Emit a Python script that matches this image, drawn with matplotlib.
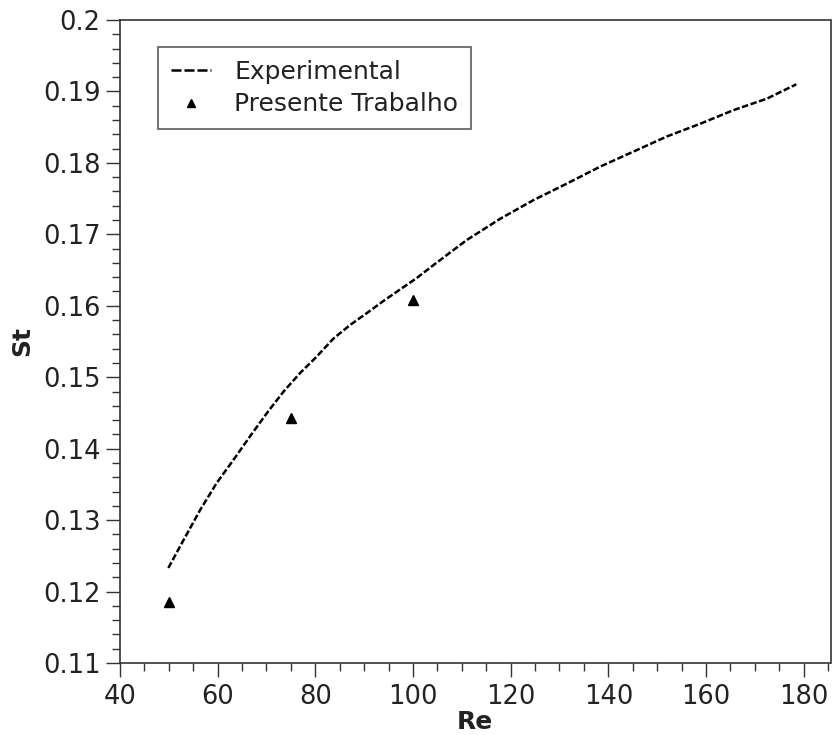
import matplotlib
matplotlib.use("Agg")
import matplotlib.pyplot as plt
from matplotlib.lines import Line2D
from matplotlib.ticker import MultipleLocator

# Experimental curve
re_exp = [49.9, 53.0, 56.4, 59.8, 63.2, 66.6, 70.1, 73.5, 76.9, 80.3, 83.7, 87.1,
          90.6, 94.0, 97.4, 100.8, 104.2, 111.0, 117.9, 124.7, 131.5, 138.4, 145.2,
          152.0, 158.9, 165.7, 172.5, 178.5]
st_exp = [0.1233, 0.1272, 0.1314, 0.1352, 0.1384, 0.1417, 0.1450, 0.1480, 0.1506,
          0.1529, 0.1554, 0.1573, 0.1590, 0.1607, 0.1623, 0.1639, 0.1657, 0.1692,
          0.1722, 0.1748, 0.1771, 0.1795, 0.1816, 0.1837, 0.1855, 0.1874, 0.1890,
          0.1910]

# Present work
re_pt = [50, 75, 100]
st_pt = [0.1186, 0.1443, 0.1608]

xticks = [40, 60, 80, 100, 120, 140, 160, 180]
yticks = [0.11, 0.12, 0.13, 0.14, 0.15, 0.16, 0.17, 0.18, 0.19, 0.2]
ytick_labels = ["0.11", "0.12", "0.13", "0.14", "0.15", "0.16", "0.17", "0.18", "0.19", "0.2"]

plt.rcParams['font.family'] = ['DejaVu Sans']
txt = '#222222'
spine_c = '#333333'

fig = plt.figure(figsize=(8.32, 7.35), dpi=100)
ax = fig.add_axes([120/832, 72/735, 710.5/832, 643/735])

ax.plot(re_exp, st_exp, color='black', lw=1.8, dashes=(2.6, 1.0))
ax.plot(re_pt, st_pt, linestyle='none', marker='^', color='black', markersize=7)

ax.set_xlim(40, 185.5)
ax.set_ylim(0.11, 0.2)
ax.set_xticks(xticks)
ax.set_yticks(yticks)
ax.set_yticklabels(ytick_labels)
ax.xaxis.set_minor_locator(MultipleLocator(5))
ax.yaxis.set_minor_locator(MultipleLocator(0.002))

ax.tick_params(which='both', direction='out', top=False, right=False,
               colors=spine_c, labelcolor=txt, labelsize=18.5, width=1.0)
ax.tick_params(which='major', length=10)
ax.tick_params(which='minor', length=5.5)
ax.tick_params(axis='y', which='major', pad=4)
ax.tick_params(axis='x', which='major', pad=5)
for s in ax.spines.values():
    s.set_color(spine_c)
    s.set_linewidth(1.2)

ax.set_xlabel('Re', fontsize=18, fontweight='bold', color=txt, labelpad=0)
ax.set_ylabel('St', fontsize=18, fontweight='bold', color=txt, labelpad=6)

h1 = Line2D([], [], color='black', lw=1.8, dashes=(4.0, 1.2))
h2 = Line2D([], [], color='black', linestyle='none', marker='^', markersize=6)
leg = ax.legend([h1, h2], ['Experimental', 'Presente Trabalho'], loc='upper left',
                bbox_to_anchor=(0.0535, 0.958), borderaxespad=0, fontsize=18,
                frameon=True, fancybox=False, handlelength=1.6, handletextpad=0.95,
                borderpad=0.5, labelspacing=0.35, labelcolor=txt)
leg.get_frame().set_edgecolor(spine_c)
leg.get_frame().set_linewidth(1.2)

fig.savefig('out.png', dpi=100)
